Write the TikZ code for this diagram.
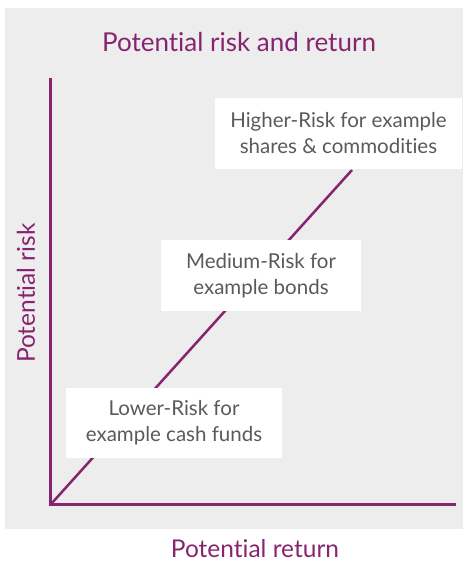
\documentclass[tikz,border=0pt]{standalone}
\usepackage{fontspec}
\setmainfont{Lato}[Ligatures={NoCommon}]
\usetikzlibrary{backgrounds}
\definecolor{plum}{RGB}{135,36,112}
\definecolor{bggray}{RGB}{237,237,237}
\definecolor{txtgray}{RGB}{90,90,90}
\tikzset{
  riskbox/.style={fill=white, text=txtgray, align=center, font=\fontsize{20.5}{26}\selectfont, inner sep=0pt},
  axisline/.style={draw=plum, line width=3pt},
  diag/.style={draw=plum, line width=2.5pt},
  purpletext/.style={text=plum, inner sep=0pt}
}
\begin{document}
\begin{tikzpicture}[x=1pt,y=-1pt]
\useasboundingbox (0,0) rectangle (466,562);
\fill[bggray] (5,8) rectangle (463,529);
\node[purpletext, font=\fontsize{26}{30}\selectfont] (title) at (239,42) {Potential risk and return};
\node[purpletext, font=\fontsize{24.5}{28}\selectfont, rotate=90] (ylab) at (26,293) {Potential risk};
\node[purpletext, font=\fontsize{24.5}{28}\selectfont] (xlab) at (255,549) {Potential return};
\coordinate (o) at (50,504);
\coordinate (ytop) at (50,78);
\coordinate (xend) at (456,504);
\coordinate (dstart) at (52,503);
\coordinate (dend) at (352,170);
\draw[diag] (dstart) -- (dend);
\draw[axisline] (ytop) -- (o) -- (xend);
\node[riskbox, minimum width=247pt, minimum height=71pt] (high) at (338.5,133.5) {Higher-Risk for example\\shares \& commodities};
\node[riskbox, minimum width=200pt, minimum height=71pt] (med) at (261,275.5) {Medium-Risk for\\example bonds};
\node[riskbox, minimum width=216pt, minimum height=70pt] (low) at (174,423) {Lower-Risk for\\example cash funds};
\end{tikzpicture}
\end{document}
